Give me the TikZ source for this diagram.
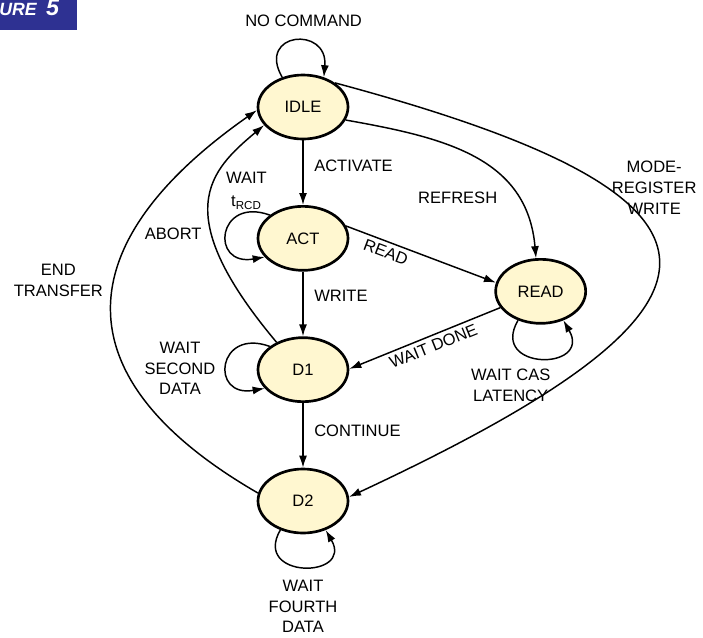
\documentclass[tikz,border=0pt]{standalone}
\usepackage{fontspec}
\setsansfont{Liberation Sans}
\usepackage{tikz}
\usetikzlibrary{arrows.meta,positioning,shapes.geometric}
\definecolor{statefill}{RGB}{255,247,208}
\definecolor{figblue}{RGB}{46,49,146}
\begin{document}
\begin{tikzpicture}[
   x=0.75pt,y=0.75pt,
   font=\sffamily\fontsize{12.4}{15.5}\selectfont,
   >={Latex[length=9pt,width=6pt]},
   every matrix/.style={ampersand replacement=\&,row sep=48.5pt},
   state/.style={draw,ellipse,line width=2pt,fill=statefill,minimum width=67.5pt,minimum height=48pt,inner sep=0pt},
   go/.style={->,line width=1.1pt},
   every node/.style={inner sep=2pt,align=center}]
\useasboundingbox (0,0) rectangle (703,637);
\fill[figblue] (0,607) rectangle (77,637);
\node[anchor=base east,text=white,font=\sffamily\bfseries\itshape\fontsize{13.3}{14}\selectfont] (fig) at (62,621) {URE\hspace{7pt}{\fontsize{17.5}{18}\selectfont 5}};
\matrix[matrix anchor=I.center] at (303,530) {
\node[state] (I) {IDLE};\\
\node[state] (A) {ACT};\\
\node[state] (D1) {D1};\\
\node[state] (D2) {D2};\\
};
\node[state,right=108.75pt of A,yshift=-39.75pt] (R) {READ};
% transitions
\draw[go] (I) to node[pos=0.39,right=5.9pt] (lact) {ACTIVATE} (A);
\draw[go] (A) to node[pos=0.38,right=5.9pt] (lwr) {WRITE} (D1);
\draw[go] (D1) to node[pos=0.43,right=5.9pt] (lcont) {CONTINUE} (D2);
\draw[go] (A.16) to node[pos=0.29,sloped,below=1pt] (lrd) {READ} (R.169);
\draw[go] (R.202) to node[pos=0.47,sloped,below=1pt] (ldone) {WAIT DONE} (D1.1);
\draw[go] (I.343) to[out=-10,in=95,looseness=1.1] node[pos=0.72,left=9pt,yshift=-5pt] (lref) {REFRESH} (R.98);
\draw[go] (I.37) to[out=-15,in=25,looseness=2.78] node[pos=0.3,right=1pt] (lmode) {MODE-\\REGISTER\\WRITE} (D2.5);
\draw[go] (D1.134) to[out=130,in=220,out looseness=2,in looseness=0.83] node[pos=0.35,left=5pt] (labort) {ABORT} (I.205);
\draw[go] (D2.170) to[out=150,in=215,looseness=1.54] node[pos=0.53,left=4.5pt,yshift=12pt] (lend) {END\\TRANSFER} (I.184);
% loops
\draw[go] (I.125) to[out=120,in=85,looseness=3.2] node[pos=0.5,above=8.5pt,xshift=6.5pt] (lnc) {NO COMMAND} (I.55);
\draw[go] (A.145) to[out=160,in=190,looseness=3.4] node[pos=0.2,above=0pt,xshift=2pt] (lrcd) {WAIT\\[2pt]t\textsubscript{RCD}} (A.206);
\draw[go] (D1.145) to[out=160,in=190,looseness=3.4] node[pos=0.5,left=6pt,yshift=-3.5pt] (lsec) {WAIT\\SECOND\\DATA} (D1.206);
\draw[go] (R.232) to[out=240,in=300,looseness=3.3] node[pos=0.5,below=5.5pt,xshift=-22.5pt] (lcas) {WAIT CAS\\LATENCY} (R.308);
\draw[go] (D2.232) to[out=240,in=300,looseness=3.2] node[pos=0.5,below=7.5pt] (lfour) {WAIT\\FOURTH\\DATA} (D2.308);
\end{tikzpicture}
\end{document}
